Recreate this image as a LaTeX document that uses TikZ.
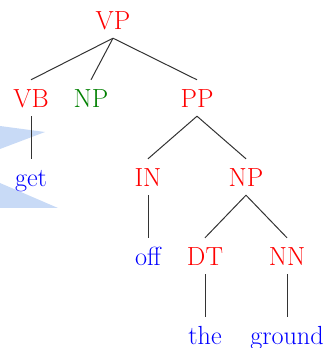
\documentclass[tikz,border=0pt]{standalone}
\usepackage{xcolor}
\definecolor{labred}{RGB}{255,0,0}
\definecolor{labgreen}{RGB}{0,128,0}
\definecolor{wordblue}{RGB}{0,0,255}
\definecolor{wedge}{RGB}{200,218,246}
\begin{document}
\begin{tikzpicture}[x=1pt,y=1pt,
  lbl/.style={anchor=base, font=\fontsize{26.2}{31}\selectfont,
    text height=22pt, text depth=2pt, inner ysep=6pt, inner xsep=1pt},
  cat/.style={lbl, text=labred},
  catg/.style={lbl, text=labgreen},
  word/.style={lbl, text=wordblue},
  edge/.style={draw=black!80, line width=1pt}]
\useasboundingbox (0,0) rectangle (327,348);
% pale pointer shapes at the left border
\fill[wedge] (0,222) -- (45,216) -- (0,199) -- cycle;
\fill[wedge] (0,165) -- (58,140) -- (0,140) -- cycle;
% tree labels (baselines)
\node[cat]  (vp)  at (113,318) {VP};
\node[cat]  (vb)  at (31,240)  {VB};
\node[catg] (np1) at (91,240)  {NP};
\node[cat]  (pp)  at (197,240) {PP};
\node[word] (get) at (31,161)  {get};
\node[cat]  (in)  at (148,161) {IN};
\node[cat]  (np2) at (246,161) {NP};
\node[word] (off) at (148,82)  {off};
\node[cat]  (dt)  at (205,82)  {DT};
\node[cat]  (nn)  at (287,82)  {NN};
\node[word] (the) at (205,3)   {the};
\node[word] (grd) at (287,3)   {ground};
% branches
\draw[edge] (vp.south) -- (vb.north);
\draw[edge] (vp.south) -- (np1.north);
\draw[edge] (vp.south) -- (pp.north);
\draw[edge] (vb.south) -- (get.north);
\draw[edge] (pp.south) -- (in.north);
\draw[edge] (pp.south) -- (np2.north);
\draw[edge] (in.south) -- (off.north);
\draw[edge] (np2.south) -- (dt.north);
\draw[edge] (np2.south) -- (nn.north);
\draw[edge] (dt.south) -- (the.north);
\draw[edge] (nn.south) -- (grd.north);
\end{tikzpicture}
\end{document}
